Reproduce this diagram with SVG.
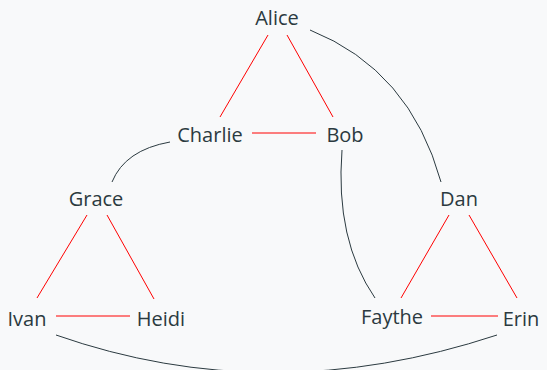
<svg xmlns="http://www.w3.org/2000/svg" width="547" height="370" viewBox="0 0 547 370">
<style>
.lbl{font-family:"Open Sans","Noto Sans",sans-serif;font-size:20px;fill:#2b3a40;text-anchor:middle}
.red{stroke:#ff0000;stroke-width:1;fill:none}
.dark{stroke:#2b3a40;stroke-width:1;fill:none}
</style>
<rect width="547" height="370" fill="#f8f9fa"/>
<g id="connectors">
<line class="red" x1="268" y1="35" x2="220" y2="117"/>
<line class="red" x1="287" y1="35" x2="333" y2="117"/>
<line class="red" x1="252" y1="133" x2="316" y2="133"/>
<line class="red" x1="87" y1="215" x2="37" y2="298"/>
<line class="red" x1="107" y1="215" x2="154" y2="299"/>
<line class="red" x1="56" y1="316" x2="130" y2="316"/>
<line class="red" x1="449" y1="215" x2="401" y2="298"/>
<line class="red" x1="469" y1="215" x2="517" y2="298"/>
<line class="red" x1="431" y1="316" x2="498" y2="316"/>
<path class="dark" d="M310,30 Q410,70 441,182"/>
<path class="dark" d="M170,142 Q125,150 112,182"/>
<path class="dark" d="M342,150 Q335,240 375,298"/>
<path class="dark" d="M56,335 Q270,410 497,335"/>
</g>
<g id="alice"><text class="lbl" x="277" y="25">Alice</text></g>
<g id="charlie"><text class="lbl" x="210" y="142">Charlie</text></g>
<g id="bob"><text class="lbl" x="345" y="142">Bob</text></g>
<g id="grace"><text class="lbl" x="96" y="206">Grace</text></g>
<g id="dan"><text class="lbl" x="459" y="206">Dan</text></g>
<g id="ivan"><text class="lbl" x="27" y="326">Ivan</text></g>
<g id="heidi"><text class="lbl" x="161" y="326">Heidi</text></g>
<g id="faythe"><text class="lbl" x="392" y="324">Faythe</text></g>
<g id="erin"><text class="lbl" x="521" y="326">Erin</text></g>
</svg>
